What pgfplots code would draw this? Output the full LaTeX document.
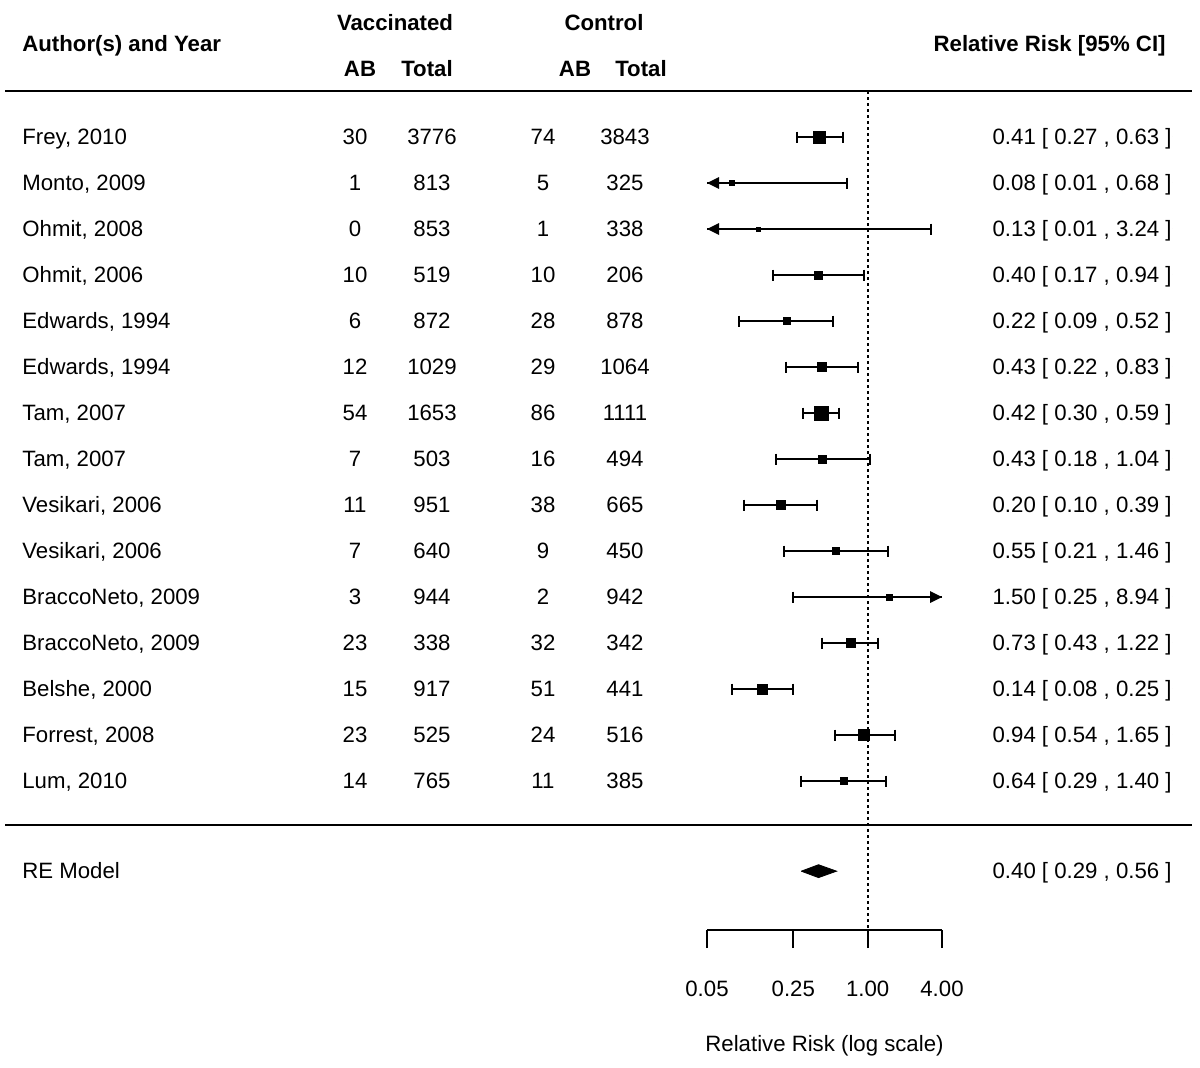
\documentclass[border=0pt]{standalone}
\usepackage{fontspec}
\setmainfont{Liberation Sans}
\usepackage{pgfplots}
\usepackage{pgfplotstable}
\pgfplotsset{compat=1.18}

% arrow heads for intervals cut at the axis limits (tip at the data point)
\pgfdeclareplotmark{larrow}{%
  \pgfpathmoveto{\pgfpoint{0pt}{0pt}}%
  \pgfpathlineto{\pgfpoint{6pt}{3pt}}%
  \pgfpathlineto{\pgfpoint{6pt}{-3pt}}%
  \pgfpathclose\pgfusepathqfill}
\pgfdeclareplotmark{rarrow}{%
  \pgfpathmoveto{\pgfpoint{0pt}{0pt}}%
  \pgfpathlineto{\pgfpoint{-6pt}{3pt}}%
  \pgfpathlineto{\pgfpoint{-6pt}{-3pt}}%
  \pgfpathclose\pgfusepathqfill}

\newcommand\rr[1]{\pgfmathprintnumber[fixed,fixed zerofill,precision=2,assume math mode=true]{#1}}

% lc/hc: whisker caps (nan = cut off), la/ha: arrow at the axis limit
\pgfplotstableread[col sep=semicolon]{
row;author;vab;vtot;cab;ctot;est;lo;hi;sz;lc;hc;la;ha
1;Frey, 2010;30;3776;74;3843;0.41;0.27;0.63;12;0.27;0.63;nan;nan
2;Monto, 2009;1;813;5;325;0.08;0.01;0.68;5;nan;0.68;0.05;nan
3;Ohmit, 2008;0;853;1;338;0.13;0.01;3.24;4;nan;3.24;0.05;nan
4;Ohmit, 2006;10;519;10;206;0.40;0.17;0.94;8;0.17;0.94;nan;nan
5;Edwards, 1994;6;872;28;878;0.22;0.09;0.52;7;0.09;0.52;nan;nan
6;Edwards, 1994;12;1029;29;1064;0.43;0.22;0.83;9;0.22;0.83;nan;nan
7;Tam, 2007;54;1653;86;1111;0.42;0.30;0.59;14;0.30;0.59;nan;nan
8;Tam, 2007;7;503;16;494;0.43;0.18;1.04;8;0.18;1.04;nan;nan
9;Vesikari, 2006;11;951;38;665;0.20;0.10;0.39;9;0.10;0.39;nan;nan
10;Vesikari, 2006;7;640;9;450;0.55;0.21;1.46;7;0.21;1.46;nan;nan
11;BraccoNeto, 2009;3;944;2;942;1.50;0.25;8.94;6;0.25;nan;nan;4
12;BraccoNeto, 2009;23;338;32;342;0.73;0.43;1.22;9;0.43;1.22;nan;nan
13;Belshe, 2000;15;917;51;441;0.14;0.08;0.25;10;0.08;0.25;nan;nan
14;Forrest, 2008;23;525;24;516;0.94;0.54;1.65;11;0.54;1.65;nan;nan
15;Lum, 2010;14;765;11;385;0.64;0.29;1.40;7;0.29;1.40;nan;nan
}\studies

\pgfplotsset{
  txtcol/.style={only marks, mark=*, mark size=0pt,
    mark options={draw=none, fill=none},
    nodes near coords, point meta=explicit symbolic,
    every node near coord/.append style={anchor=#1, inner sep=0pt, yshift=-3.97pt, black}},
}

\begin{document}
\begin{tikzpicture}[font=\fontsize{11.1}{13.3}\selectfont]
\useasboundingbox (0,0) rectangle (600pt,533.5pt);

% text layer, coordinates in pixels of the 1200x1067 picture
\begin{axis}[at={(0,0)}, anchor=south west, width=600pt, height=533.5pt,
  scale only axis, hide axis, clip=false,
  xmin=0, xmax=1200, ymin=-1067, ymax=0]
  \draw[line width=1.1pt] (axis cs:5,-91) -- (axis cs:1192,-91);
  \draw[line width=1.1pt] (axis cs:5,-825) -- (axis cs:1192,-825);
  \begin{scope}[every node/.style={inner sep=0pt, yshift=-4pt, font=\fontsize{11.1}{13.3}\selectfont\bfseries}]
    \node[anchor=base west] at (axis cs:22,-44) {Author(s) and Year};
    \node[anchor=base] at (axis cs:395,-23) {Vaccinated};
    \node[anchor=base] at (axis cs:604,-23) {Control};
    \node[anchor=base] at (axis cs:360,-69) {AB};
    \node[anchor=base] at (axis cs:427,-69) {Total};
    \node[anchor=base] at (axis cs:575,-69) {AB};
    \node[anchor=base] at (axis cs:641,-69) {Total};
    \node[anchor=base east] at (axis cs:1166,-44) {Relative Risk [95\% CI]};
  \end{scope}
  \addplot[txtcol=base west] table[x expr=22, y expr=-(91+46*\thisrow{row}), meta=author] \studies;
  \addplot[txtcol=base] table[x expr=355, y expr=-(91+46*\thisrow{row}), meta=vab] \studies;
  \addplot[txtcol=base] table[x expr=432, y expr=-(91+46*\thisrow{row}), meta=vtot] \studies;
  \addplot[txtcol=base] table[x expr=543, y expr=-(91+46*\thisrow{row}), meta=cab] \studies;
  \addplot[txtcol=base] table[x expr=625, y expr=-(91+46*\thisrow{row}), meta=ctot] \studies;
  \addplot[txtcol=base east,
    visualization depends on={\thisrow{est}\as\vest},
    visualization depends on={\thisrow{lo}\as\vlo},
    visualization depends on={\thisrow{hi}\as\vhi},
    nodes near coords={\rr{\vest} [ \rr{\vlo} , \rr{\vhi} ]}]
    table[x expr=1172, y expr=-(91+46*\thisrow{row}), meta=author] \studies;
  \begin{scope}[every node/.style={inner sep=0pt, yshift=-3.97pt}]
    \node[anchor=base west] at (axis cs:22,-871) {RE Model};
    \node[anchor=base east] at (axis cs:1172,-871) {0.40 [ 0.29 , 0.56 ]};
  \end{scope}
\end{axis}

% forest layer, y in rows below the top rule
\begin{axis}[at={(353.5pt,68.5pt)}, anchor=south west,
  width=117.5pt, height=419.5pt, scale only axis, clip=false,
  xmode=log, xmin=0.05, xmax=4, ymin=-18.239, ymax=0,
  axis x line=bottom, axis y line=none,
  x axis line style={-, line width=1pt},
  xtick={0.05,0.25,1,4}, xticklabels={0.05,0.25,1.00,4.00},
  minor xtick={}, tick align=outside, major tick length=9pt,
  tick style={line width=1pt, black},
  xticklabel style={anchor=base, yshift=-24pt, inner sep=0pt},
  xlabel={Relative Risk (log scale)},
  xlabel style={at={(axis description cs:0.5,0)}, anchor=base, yshift=-60.5pt, inner sep=0pt}]
  \addplot[black, line width=1pt, dash pattern=on 1.5pt off 1.5pt] coordinates {(1,0) (1,-18.239)};
  % confidence intervals, cut at the axis limits
  \addplot[draw=none, mark=none,
    error bars/.cd, x dir=both, x explicit, error mark=none,
    error bar style={line width=0.95pt, black}]
    table[x=est, y expr=-\thisrow{row},
      x error plus expr={min(\thisrow{hi},4)-\thisrow{est}},
      x error minus expr={\thisrow{est}-max(\thisrow{lo},0.05)}] \studies;
  \addplot[only marks, mark=|, mark size=2.75pt, black, mark options={line width=1pt}]
    table[x=lc, y expr=-\thisrow{row}] \studies;
  \addplot[only marks, mark=|, mark size=2.75pt, black, mark options={line width=1pt}]
    table[x=hc, y expr=-\thisrow{row}] \studies;
  \addplot[only marks, mark=larrow, black] table[x=la, y expr=-\thisrow{row}] \studies;
  \addplot[only marks, mark=rarrow, black] table[x=ha, y expr=-\thisrow{row}] \studies;
  % study estimates, square size by weight
  \addplot[scatter, only marks, mark=square*, point meta=\thisrow{sz},
    scatter/use mapped color={draw=black, fill=black},
    visualization depends on={\thisrow{sz}/4 \as \msz},
    scatter/@pre marker code/.append style={/tikz/mark size=\msz, /tikz/line width=0pt}]
    table[x=est, y expr=-\thisrow{row}] \studies;
  % RE model summary diamond
  \addplot[fill=black, draw=black, line width=0.4pt]
    coordinates {(0.29,-16.96) (0.40,-16.82) (0.56,-16.96) (0.40,-17.10) (0.29,-16.96)};
\end{axis}
\end{tikzpicture}
\end{document}
